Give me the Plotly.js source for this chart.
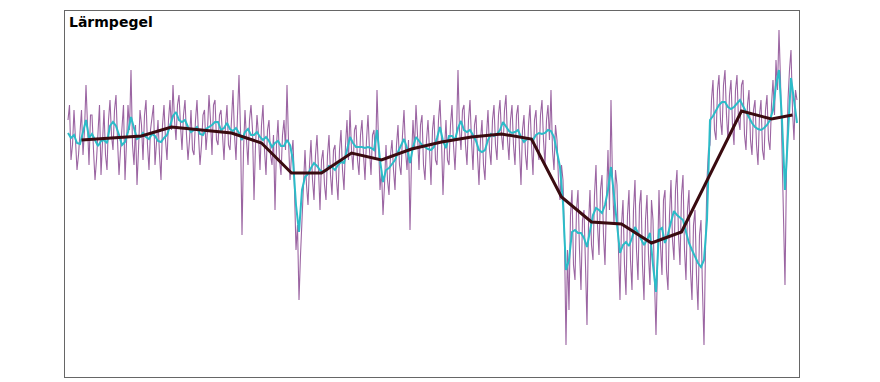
<!DOCTYPE html>
<html>
<head>
<meta charset="utf-8">
<script src="https://cdn.plot.ly/plotly-3.0.1.min.js"></script>
<style>
html,body{margin:0;padding:0;background:#fff;}
#chart{width:880px;height:382px;}
</style>
</head>
<body>
<div id="chart"></div>
<script>
// Lärmpegel in dB, one value per half measurement step
const rawLevel = [
76,79,68,71,78,70,66,69,75,78,69,74,83,75,67,77,77,70,64,68,
74,79,65,73,78,69,66,76,80,73,70,78,81,72,65,70,75,79,64,72,
79,74,86,71,67,75,63,70,78,75,68,77,80,71,66,74,77,79,67,71,
76,69,64,75,79,72,68,76,80,74,83,76,72,79,81,75,70,77,80,73,
68,72,78,70,69,76,80,73,67,71,77,78,70,74,81,76,69,79,80,72,
71,77,78,73,68,75,79,71,70,76,82,73,68,77,85,74,53,70,78,72,
67,76,79,74,60,71,77,73,66,75,79,70,65,74,76,69,67,73,58,71,
76,68,65,73,76,70,83,72,64,69,72,62,50,55,40,49,56,66,70,63,
59,67,72,64,60,69,73,66,58,68,70,63,60,69,73,65,61,70,71,64,
60,70,74,66,62,71,76,68,78,70,66,74,75,68,65,73,76,69,64,72,
77,70,65,73,74,68,82,72,62,66,57,63,71,64,61,69,72,66,62,71,
75,67,65,73,78,70,66,72,54,68,76,70,79,73,66,75,77,67,64,72,
76,70,63,74,77,68,67,76,80,72,61,70,76,68,67,75,79,71,66,73,
86,74,70,78,79,71,67,76,80,72,66,75,77,69,63,72,76,67,64,73,
78,70,67,76,79,71,68,77,80,73,70,78,81,72,68,76,79,71,67,77,
79,70,63,74,77,69,66,75,79,71,65,76,78,70,68,77,80,72,67,76,
79,72,82,70,66,75,72,64,60,67,64,52,31,50,38,57,62,47,44,58,
62,50,42,56,58,47,35,55,62,51,48,61,67,55,49,62,65,53,47,60,
70,58,80,64,55,66,63,50,40,55,60,47,41,57,62,48,42,58,64,50,
44,59,62,47,40,56,61,49,43,60,56,44,33,47,62,51,45,60,62,46,
42,57,64,52,48,62,66,53,47,61,65,50,44,58,62,46,40,55,58,45,
38,53,56,42,31,50,64,70,71,80,84,74,72,82,85,76,73,83,86,77,
72,81,84,75,71,82,85,76,74,83,84,73,70,79,82,72,69,78,80,71,
67,77,80,70,68,78,81,72,70,79,84,77,88,82,94,84,72,60,43,66,
80,86,90,78,72,82,80
];
// gleitender Mittelwert, one value per measurement step
const smoothLevel = [
73.4,72.4,73.0,71.4,71.2,73.6,76.0,72.4,73.2,72.0,
70.8,71.8,72.0,71.4,74.8,75.6,74.8,73.0,71.0,71.6,
73.6,76.6,74.4,72.2,72.6,73.4,72.6,72.2,73.2,72.8,
71.8,71.6,72.4,73.0,74.8,76.8,77.6,76.0,75.6,76.0,
74.6,73.6,74.0,74.6,73.2,73.0,74.2,74.6,75.0,75.6,
75.6,74.0,74.4,75.4,74.2,73.8,74.4,73.4,72.0,73.6,
74.2,73.0,73.0,73.6,72.6,72.0,72.6,71.8,70.6,71.4,
71.8,70.8,70.8,72.0,71.0,68.0,59.0,53.6,62.0,64.6,
65.2,66.4,67.4,66.8,66.0,65.6,65.8,66.8,66.6,66.0,
67.0,67.6,67.4,70.0,72.6,71.4,70.6,70.6,70.6,70.4,
70.6,70.4,70.0,74.0,68.0,63.6,66.0,66.4,67.2,68.0,
69.6,71.0,72.2,70.4,67.4,70.6,72.6,71.8,71.0,70.6,
70.2,70.0,70.6,72.4,74.6,71.8,70.4,72.8,72.8,72.0,
74.4,75.8,74.0,73.6,74.0,73.0,71.8,70.0,69.6,70.0,
72.0,73.2,72.8,73.2,74.0,75.6,74.6,73.8,73.4,73.6,
74.0,72.6,71.6,72.2,72.2,72.0,73.0,73.4,73.2,73.4,
74.0,73.8,72.6,69.6,66.6,59.4,46.0,48.0,53.6,54.0,
53.4,53.4,52.4,50.6,54.0,57.0,58.4,58.0,57.4,59.0,
62.0,66.6,61.0,55.0,49.4,51.0,51.6,50.8,52.4,54.6,
53.4,52.2,51.0,52.0,53.4,47.0,41.6,54.0,54.4,51.4,
53.2,55.6,57.8,57.0,56.4,56.0,53.6,51.4,50.0,48.6,
47.4,46.6,48.0,56.0,76.0,76.8,77.8,79.0,79.6,79.6,
78.6,78.2,78.6,79.2,80.0,78.8,77.6,76.4,75.4,74.6,
74.2,74.0,74.4,75.0,76.0,78.0,83.0,86.0,76.0,62.0,
74.0,84.4,80.0,75.4
];
// Mittelwerte je 10 Messungen
const binCenters = [4.5,14.5,24.5,34.5,44.5,54.5,64.5,74.5,84.5,94.5,104.5,114.5,124.5,134.5,144.5,154.5,164.5,174.5,184.5,194.5,204.5,214.5,224.5,234.5,241.5];
const binLevel = [72.0,72.4,72.8,74.6,74.0,73.4,71.4,65.4,65.4,69.4,68.0,70.2,71.6,72.6,73.2,72.2,60.6,55.6,55.2,51.4,53.6,65.8,77.8,76.2,77.0];
const chartTitle = "Lärmpegel";

const rawX = rawLevel.map((_, i) => i * 0.5);
const smoothX = smoothLevel.map((_, i) => i);

const traces = [
  {x: rawX, y: rawLevel, type: 'scatter', mode: 'lines',
   line: {color: '#8a4a92', width: 1.1}, opacity: 0.85, hoverinfo: 'skip'},
  {x: smoothX, y: smoothLevel, type: 'scatter', mode: 'lines',
   line: {color: '#2bbcc8', width: 2}, hoverinfo: 'skip'},
  {x: binCenters, y: binLevel, type: 'scatter', mode: 'lines',
   line: {color: '#3a0b10', width: 3}, hoverinfo: 'skip'}
];

const layout = {
  width: 880, height: 382,
  margin: {l: 65, r: 81, t: 11, b: 5, pad: 0},
  paper_bgcolor: '#fff', plot_bgcolor: '#fff',
  showlegend: false,
  xaxis: {range: [-1, 243.67], showgrid: false, zeroline: false, showticklabels: false,
          ticks: '', showline: true, mirror: true, linecolor: '#666', linewidth: 1},
  yaxis: {range: [24.6, 97.8], showgrid: false, zeroline: false, showticklabels: false,
          ticks: '', showline: true, mirror: true, linecolor: '#666', linewidth: 1},
  annotations: [{
    text: '<b>' + chartTitle + '</b>', xref: 'paper', yref: 'paper', x: 0, y: 1,
    xanchor: 'left', yanchor: 'top', xshift: 2, yshift: -1, showarrow: false,
    font: {family: 'DejaVu Sans', size: 14, color: '#000'}
  }]
};

Plotly.newPlot('chart', traces, layout, {staticPlot: true, displayModeBar: false});
</script>
</body>
</html>
